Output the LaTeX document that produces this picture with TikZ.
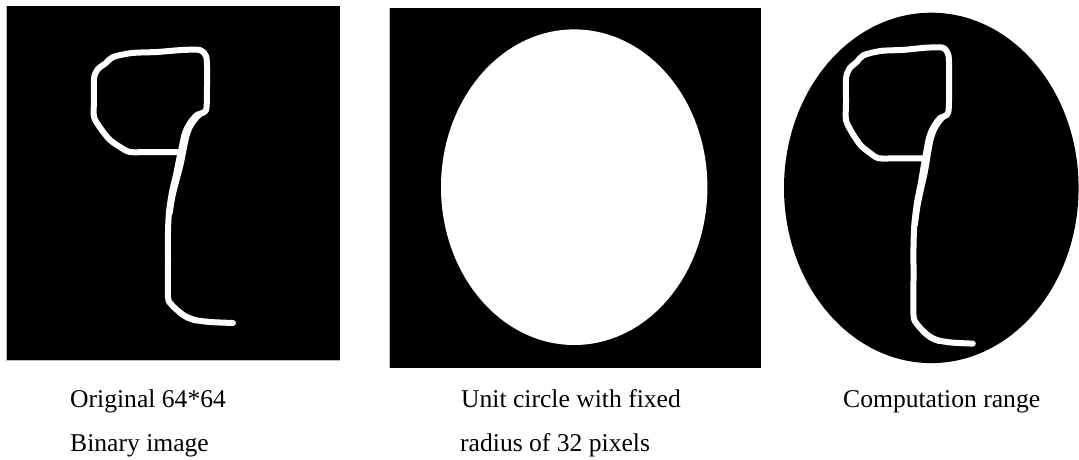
\documentclass[tikz,border=0pt]{standalone}
\usepackage{fontspec}
\setmainfont{Liberation Serif}
\begin{document}
\begin{tikzpicture}[x=1pt,y=-1pt,
  panel/.style={fill=black},
  edge/.style={draw=gray!55,line width=0.9pt},
  stroke/.style={draw=white,line width=6pt,line join=round,line cap=round},
  thick stroke/.style={draw=white,line width=3pt,line join=round,line cap=round},
  caption/.style={anchor=base west,inner sep=0pt,font=\fontsize{25.6}{30}\selectfont}]
\useasboundingbox (0,0) rectangle (1079,460);
% the digit stroke in panel-1 pixel coordinates
\def\digit{%
  \draw[stroke] plot[smooth,tension=0.45] coordinates {
    (180,152) (150,152) (130,152) (120,147) (110,140) (101,129) (94,117)
    (94,100) (94,78) (98,69) (106,63) (113,57) (132,53) (157,52) (182,50)
    (200,50) (206,56) (207,66) (207,86) (206,110) (197,115) (190,123)
    (185,133) (182,146) (179,160) (176,175) (172,192) (169,212) (168,232)
    (168,260) (168,297) (171,304) (177,310) (185,316) (195,320) (210,322)
    (233,323)};
  \draw[thick stroke] plot[smooth,tension=0.45] coordinates {
    (205,112) (198,118) (192,126) (188,136) (185,150) (182,165) (178,180)
    (174,196) (171,214)};
  \draw[thick stroke] plot[smooth,tension=0.45] coordinates {
    (102,132) (108,137)};
  \draw[thick stroke] plot[smooth,tension=0.45] coordinates {
    (178,313) (187,319) (196,322)};
}
% panel 1: original binary image
\fill[panel] (6,6) rectangle (340,360);
\draw[edge] (6,6) -- (6,360) -- (340,360);
\digit
% panel 2: unit circle
\fill[panel] (389,8) rectangle (761,368);
\draw[edge] (389,8) -- (389,368);
\fill[white] (574.2,187.2) ellipse [x radius=133.2, y radius=157.8];
% panel 3: computation range
\fill[black] (931.3,187.9) ellipse [x radius=147.3, y radius=175.2];
\begin{scope}[shift={(760.3,-6.5)},xscale=0.912,yscale=1.084]
  \digit
\end{scope}
% captions
\node[caption] (c1a) at (70,407.7) {Original 64*64};
\node[caption] (c1b) at (70,451) {Binary image};
\node[caption] (c2a) at (461,407.7) {Unit circle with fixed};
\node[caption] (c2b) at (460,451) {radius of 32 pixels};
\node[caption] (c3a) at (843,407.7) {Computation range};
\end{tikzpicture}
\end{document}
